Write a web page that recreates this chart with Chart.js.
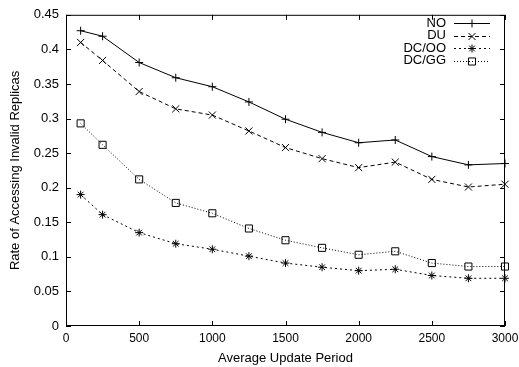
<!DOCTYPE html>
<html>
<head>
<meta charset="utf-8">
<script src="https://cdn.jsdelivr.net/npm/chart.js@4"></script>
<style>
  html, body { margin: 0; padding: 0; background: #fff; }
  #wrap { width: 519px; height: 367px; }
</style>
</head>
<body>
<div id="wrap"><canvas id="myChart" width="519" height="367"></canvas></div>
<script>
// values
var periods = [100, 250, 500, 750, 1000, 1250, 1500, 1750, 2000, 2250, 2500, 2750, 3000];
var seriesNO = [0.427, 0.419, 0.381, 0.359, 0.346, 0.324, 0.299, 0.280, 0.265, 0.269, 0.245, 0.233, 0.235];
var seriesDU = [0.410, 0.384, 0.339, 0.314, 0.305, 0.282, 0.258, 0.242, 0.229, 0.237, 0.212, 0.201, 0.205];
var seriesOO = [0.190, 0.161, 0.135, 0.119, 0.111, 0.101, 0.091, 0.085, 0.080, 0.082, 0.073, 0.069, 0.069];
var seriesGG = [0.293, 0.262, 0.212, 0.178, 0.163, 0.141, 0.124, 0.113, 0.103, 0.108, 0.091, 0.086, 0.086];
var yTickLabels = ['0', '0.05', '0.1', '0.15', '0.2', '0.25', '0.3', '0.35', '0.4', '0.45'];
var xTickValues = [0, 500, 1000, 1500, 2000, 2500, 3000];
var xTickLabels = ['0', '500', '1000', '1500', '2000', '2500', '3000'];

var FONT = 'Liberation Sans, Arial, Helvetica, sans-serif';

function toPoints(values) {
    var pts = [];
    for (var i = 0; i < values.length; i++) {
        pts.push({ x: periods[i], y: values[i] });
    }
    return pts;
}

// line + marker styles, gnuplot like
var styles = [
    { label: 'NO', data: seriesNO, dash: [], point: 'cross', radius: 4 },
    { label: 'DU', data: seriesDU, dash: [4, 3], point: 'crossRot', radius: 5 },
    { label: 'DC/OO', data: seriesOO, dash: [2, 3], point: 'star', radius: 4 },
    { label: 'DC/GG', data: seriesGG, dash: [1, 2], point: 'rect', radius: 5 }
];

var datasets = styles.map(function (s) {
    return {
        label: s.label,
        data: toPoints(s.data),
        borderColor: '#000',
        backgroundColor: 'rgba(0,0,0,0)',
        borderWidth: 1,
        borderDash: s.dash,
        pointStyle: s.point,
        pointRadius: s.radius,
        pointBorderColor: '#000',
        pointBackgroundColor: 'rgba(0,0,0,0)',
        pointBorderWidth: 1,
        tension: 0,
        clip: false
    };
});

// small marker painter for the legend
function drawMarker(ctx, style, x, y, r) {
    ctx.beginPath();
    if (style === 'cross' || style === 'star') {
        ctx.moveTo(x - r, y); ctx.lineTo(x + r, y);
        ctx.moveTo(x, y - r); ctx.lineTo(x, y + r);
    }
    if (style === 'crossRot' || style === 'star') {
        var d = Math.cos(Math.PI / 4) * r;
        ctx.moveTo(x - d, y - d); ctx.lineTo(x + d, y + d);
        ctx.moveTo(x - d, y + d); ctx.lineTo(x + d, y - d);
    }
    if (style === 'rect') {
        var s = r / Math.SQRT2;
        ctx.rect(x - s, y - s, 2 * s, 2 * s);
    }
    ctx.stroke();
}

// frame with inward ticks on all four sides, x tick labels drawn here too
// (so chart.js doesn't pad the right side for the "3000" label)
var framePlugin = {
    id: 'frame',
    beforeDatasetsDraw: function (chart) {
        var ctx = chart.ctx;
        var a = chart.chartArea;
        var xs = chart.scales.x, ys = chart.scales.y;
        var tl = 5;
        ctx.save();
        ctx.strokeStyle = '#000';
        ctx.lineWidth = 1;
        ctx.setLineDash([]);
        ctx.strokeRect(a.left + 0.5, a.top + 0.5, a.right - a.left - 1, a.bottom - a.top - 1);
        ctx.beginPath();
        for (var i = 0; i < xTickValues.length; i++) {
            var px = Math.round(xs.getPixelForValue(xTickValues[i])) + 0.5;
            ctx.moveTo(px, a.bottom); ctx.lineTo(px, a.bottom - tl);
            ctx.moveTo(px, a.top); ctx.lineTo(px, a.top + tl);
        }
        for (var j = 0; j < yTickLabels.length; j++) {
            var py = Math.round(ys.getPixelForValue(j * 0.05)) + 0.5;
            ctx.moveTo(a.left, py); ctx.lineTo(a.left + tl, py);
            ctx.moveTo(a.right, py); ctx.lineTo(a.right - tl, py);
        }
        ctx.stroke();

        ctx.font = '12px ' + FONT;
        ctx.fillStyle = '#000';
        ctx.textAlign = 'center';
        ctx.textBaseline = 'middle';
        for (var k = 0; k < xTickValues.length; k++) {
            ctx.fillText(xTickLabels[k], xs.getPixelForValue(xTickValues[k]), a.bottom + 13);
        }
        ctx.restore();
    },
    afterDraw: function (chart) {
        var ctx = chart.ctx;
        ctx.save();
        ctx.font = '13px ' + FONT;
        ctx.textAlign = 'right';
        ctx.textBaseline = 'middle';
        ctx.fillStyle = '#000';
        ctx.strokeStyle = '#000';
        ctx.lineWidth = 1;
        for (var i = 0; i < styles.length; i++) {
            var y = 23 + i * 12.5;
            ctx.fillText(styles[i].label, 446, y);
            ctx.setLineDash(styles[i].dash);
            ctx.beginPath();
            ctx.moveTo(454, Math.round(y) + 0.5);
            ctx.lineTo(490, Math.round(y) + 0.5);
            ctx.stroke();
            ctx.setLineDash([]);
            drawMarker(ctx, styles[i].point, 472, Math.round(y) + 0.5, styles[i].radius);
        }
        ctx.restore();
    }
};

var myChart = new Chart(document.getElementById('myChart'), {
    type: 'line',
    data: { datasets: datasets },
    plugins: [framePlugin],
    options: {
        responsive: false,
        animation: false,
        layout: { padding: { top: 14, right: 14, left: 0, bottom: 0 } },
        plugins: {
            legend: { display: false },
            tooltip: { enabled: false }
        },
        scales: {
            x: {
                type: 'linear',
                min: 0,
                max: 3000,
                grid: { display: false, drawTicks: false },
                border: { display: false },
                ticks: { display: false },
                title: {
                    display: true,
                    text: 'Average Update Period',
                    color: '#000',
                    font: { family: FONT, size: 13 },
                    padding: { top: 4, bottom: 1 }
                },
                afterFit: function (scale) { scale.height = 41; }
            },
            y: {
                min: 0,
                max: 0.45,
                grid: { display: false, drawTicks: false },
                border: { display: false },
                ticks: {
                    stepSize: 0.05,
                    padding: 7,
                    color: '#000',
                    font: { family: FONT, size: 13 },
                    callback: function (v, i) { return yTickLabels[i]; }
                },
                title: {
                    display: true,
                    text: 'Rate of Accessing Invalid Replicas',
                    color: '#000',
                    font: { family: FONT, size: 13 },
                    padding: { top: 8, bottom: 0 }
                },
                afterFit: function (scale) { scale.width = 66; }
            }
        }
    }
});
</script>
</body>
</html>
